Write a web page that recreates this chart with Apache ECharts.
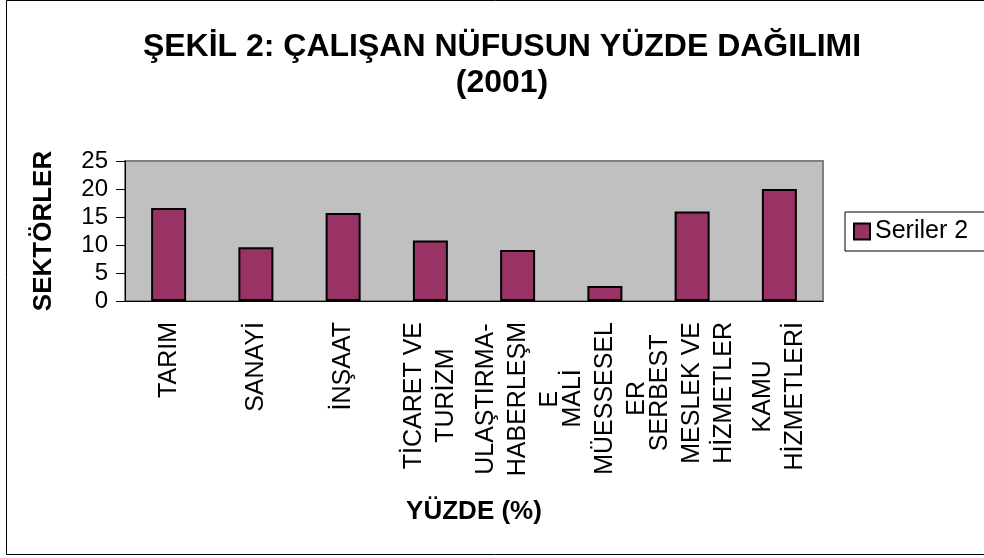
<!DOCTYPE html>
<html>
<head>
<meta charset="utf-8">
<script src="https://cdn.jsdelivr.net/npm/echarts@6/dist/echarts.min.js"></script>
<style>
html,body{margin:0;padding:0;background:#fff;}
#chart{width:984px;height:558px;}
</style>
</head>
<body>
<div id="chart"></div>
<script>
// sektörler (x ekseni etiketleri, satır kırılımları resimdeki gibi)
let categories=[
	"TARIM",
	"SANAYİ",
	"İNŞAAT",
	"TİCARET VE\nTURİZM",
	"ULAŞTIRMA-\nHABERLEŞM\nE",
	"MALİ\nMÜESSESEL\nER",
	"SERBEST\nMESLEK VE\nHİZMETLER",
	"KAMU\nHİZMETLERİ",
];
let values=[16.6,9.6,15.7,10.8,9.1,2.7,16.0,20.0];
let yTicks=[0,5,10,15,20,25];
let seriesName="Seriler 2";

let font="'Liberation Sans', Arial, sans-serif";

let bar_echart=echarts.init(document.getElementById('chart'));

bar_echart.setOption({
	animation:false,
	backgroundColor:"#ffffff",
	textStyle:{
		fontFamily:font,
		color:"#000",
	},
	graphic:[{
		type:"rect",
		shape:{x:6.5,y:0.5,width:1000,height:554},
		style:{fill:null,stroke:"#000",lineWidth:1},
		silent:true,
	}],
	title:{
		text:"ŞEKİL 2: ÇALIŞAN NÜFUSUN YÜZDE DAĞILIMI\n(2001)",
		left:497,
		top:24,
		textAlign:"center",
		textStyle:{
			fontFamily:font,
			fontSize:32,
			fontWeight:"bold",
			lineHeight:36,
			color:"#000",
		},
	},
	legend:{
		left:845,
		top:212,
		orient:"vertical",
		padding:[7,20,7,8],
		borderColor:"#000",
		borderWidth:1,
		itemWidth:16,
		itemHeight:16,
		icon:"rect",
		textStyle:{
			fontFamily:font,
			fontSize:25,
			color:"#000",
		},
		data:[seriesName],
	},
	grid:{
		left:125,
		top:161,
		width:698,
		height:140,
		show:true,
		backgroundColor:"#c0c0c0",
		borderColor:"#808080",
		borderWidth:2,
	},
	xAxis:[{
		type:"category",
		data:categories,
		name:"YÜZDE (%)",
		nameLocation:"middle",
		nameGap:198,
		nameTextStyle:{
			fontFamily:font,
			fontSize:26,
			fontWeight:"bold",
			color:"#000",
		},
		axisLine:{lineStyle:{color:"#000",width:1}},
		axisTick:{length:8,lineStyle:{color:"#000"}},
		axisLabel:{
			rotate:90,
			margin:21,
			interval:0,
			formatter:function(v){
				return v.split("\n").map(function(s){return "{c|"+s+"}";}).join("\n");
			},
			rich:{
				c:{
					align:"center",
					fontFamily:font,
					fontSize:25,
					lineHeight:32,
					color:"#000",
				},
			},
		},
	},{
		// içe doğru çentikler (Excel'deki çapraz çentik görünümü)
		type:"category",
		data:categories,
		position:"bottom",
		axisLine:{show:false},
		axisTick:{inside:true,length:8,lineStyle:{color:"#000"}},
		axisLabel:{show:false},
	}],
	yAxis:{
		type:"value",
		min:yTicks[0],
		max:yTicks[yTicks.length-1],
		interval:5,
		name:"SEKTÖRLER",
		nameLocation:"middle",
		nameGap:68,
		nameTextStyle:{
			fontFamily:font,
			fontSize:26,
			fontWeight:"bold",
			color:"#000",
		},
		axisLine:{show:true,lineStyle:{color:"#000",width:1}},
		axisTick:{show:true,length:9,lineStyle:{color:"#000"}},
		splitLine:{show:false},
		axisLabel:{
			margin:17,
			fontFamily:font,
			fontSize:24,
			color:"#000",
		},
	},
	series:[{
		name:seriesName,
		type:"bar",
		xAxisIndex:0,
		data:values,
		barWidth:35,
		itemStyle:{
			color:"#993366",
			borderColor:"#000",
			borderWidth:2,
		},
	}],
});
</script>
</body>
</html>
